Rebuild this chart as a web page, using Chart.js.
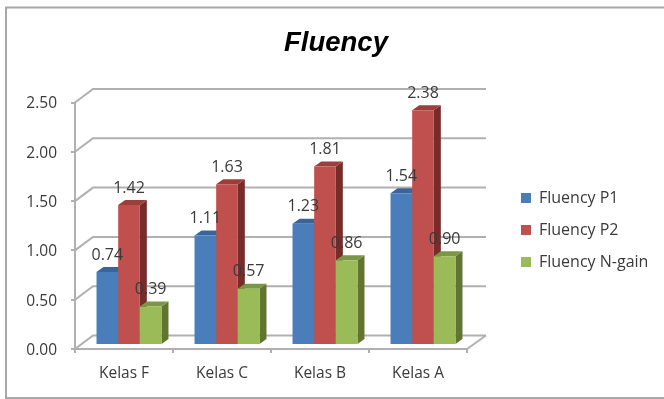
<!DOCTYPE html>
<html><head><meta charset="utf-8">
<style>html,body{margin:0;padding:0;background:#fff}#w{width:664px;height:399px}canvas{display:block;filter:blur(0.65px)}</style>
<script src="https://cdn.jsdelivr.net/npm/chart.js@4"></script>
</head><body><div id="w"><canvas id="c" width="664" height="399"></canvas></div>
<script>
const categories=["Kelas F","Kelas C","Kelas B","Kelas A"];
const seriesNames=["Fluency P1","Fluency P2","Fluency N-gain"];
const p1=[0.74,1.11,1.23,1.54];
const p2=[1.42,1.63,1.81,2.38];
const ngain=[0.39,0.57,0.86,0.90];
const colors=["#4a7ebb","#c0504d","#9bbb59"];
const sideColors=["#2f5582","#772c2a","#5f7530"];
const topColors=["#3a659a","#9a3f3c","#7c9647"];
const gridColor="#b0b0b0",textColor="#3a3a3a";
const wall={dx:18,dy:-13.5}, bar3d={dx:7,dy:-5,ox:5,oy:-4};

const frame3d={id:'frame3d',
 beforeLayout(chart){const l=chart.legend;if(l&&!l._wrapped){const f=l.fit;l.fit=function(){f.call(this);this.width=197;};l._wrapped=true;}
  const s=chart.scales.y;if(s&&!s._wrapped){const d=s.drawLabels;s.drawLabels=function(a){const c=this.ctx;c.save();c.translate(0,1.5);d.call(this,a);c.restore();};s._wrapped=true;}},
 afterLayout(chart){const l=chart.legend;const w=l.width;l.left=505;l.right=505+w;l.top=174;l.bottom=340;
  chart.titleBlock.left+=4;chart.titleBlock.right+=4;},
 beforeDraw(chart){const c=chart.ctx;c.save();c.fillStyle='#fff';c.fillRect(0,0,664,399);
  c.strokeStyle='#a8a8a8';c.lineWidth=2;c.beginPath();c.moveTo(664,7.5);c.lineTo(6,7.5);c.lineTo(6,398);c.lineTo(664,398);c.stroke();c.restore();},
 beforeDatasetsDraw(chart){const c=chart.ctx,y=chart.scales.y,a=chart.chartArea;
  c.save();c.strokeStyle=gridColor;c.lineWidth=2;
  y.ticks.forEach(t=>{const p=y.getPixelForValue(t.value);c.beginPath();c.moveTo(a.left,p);c.lineTo(a.left+wall.dx,p+wall.dy);c.lineTo(a.right+wall.dx+1,p+wall.dy);c.stroke();});
  c.beginPath();c.moveTo(a.right,a.bottom);c.lineTo(a.right+wall.dx+1,a.bottom+wall.dy);c.stroke();
  c.restore();
  c.save();c.translate(bar3d.ox,bar3d.oy);
  chart.data.datasets.forEach((d,i)=>{chart.getDatasetMeta(i).data.forEach(el=>{
    const L=el.x-el.width/2,R=el.x+el.width/2,T=el.y,B=el.base,dx=bar3d.dx,dy=bar3d.dy;
    c.fillStyle=sideColors[i];c.beginPath();c.moveTo(R,T);c.lineTo(R+dx,T+dy);c.lineTo(R+dx,B+dy);c.lineTo(R,B);c.closePath();c.fill();
    c.fillStyle=topColors[i];c.beginPath();c.moveTo(L,T);c.lineTo(L+dx,T+dy);c.lineTo(R+dx,T+dy);c.lineTo(R,T);c.closePath();c.fill();
  });});
 },
 afterDatasetsDraw(chart){chart.ctx.restore();},
 afterDraw(chart){const c=chart.ctx;c.save();c.font='16px "Open Sans"';c.fillStyle=textColor;c.textAlign='center';c.textBaseline='middle';
  chart.data.datasets.forEach((d,i)=>{chart.getDatasetMeta(i).data.forEach((el,j)=>{
    c.fillText(d.data[j].toFixed(2),el.x+bar3d.ox,el.y+bar3d.oy-17);});});
  c.restore();}
};

new Chart(document.getElementById('c'),{type:'bar',
 data:{labels:categories,datasets:[p1,p2,ngain].map((v,i)=>({label:seriesNames[i],data:v,backgroundColor:colors[i],borderWidth:0,clip:false}))},
 options:{responsive:false,animation:false,
  layout:{padding:0},
  datasets:{bar:{categoryPercentage:0.663,barPercentage:1}},
  plugins:{
   title:{display:true,text:"Fluency",color:"#000",font:{family:'"Liberation Sans"',size:27.5,style:'italic',weight:'bold',lineHeight:1.2},padding:{top:26.5,bottom:43}},
   legend:{position:'right',align:'start',labels:{color:textColor,font:{family:'"Open Sans"',size:16},boxWidth:10,boxHeight:10,padding:16}},
   tooltip:{enabled:false}},
  scales:{
   x:{afterFit(s){s.height=50;},grid:{display:true,drawOnChartArea:false,drawTicks:true,tickLength:4,color:gridColor,lineWidth:2,offset:true},border:{display:true,color:gridColor,width:2},
      ticks:{color:textColor,padding:11,font:{family:'"Open Sans"',size:15.5},maxRotation:0}},
   y:{min:0,max:2.5,afterFit(s){s.width=75;},grid:{display:true,drawOnChartArea:false,drawTicks:true,tickLength:4,color:gridColor,lineWidth:2},border:{display:true,color:gridColor,width:2},
      ticks:{stepSize:0.5,color:textColor,padding:14,font:{family:'"Open Sans"',size:15.5},callback:v=>Number(v).toFixed(2)}}
  }},
 plugins:[frame3d]});
</script></body></html>
